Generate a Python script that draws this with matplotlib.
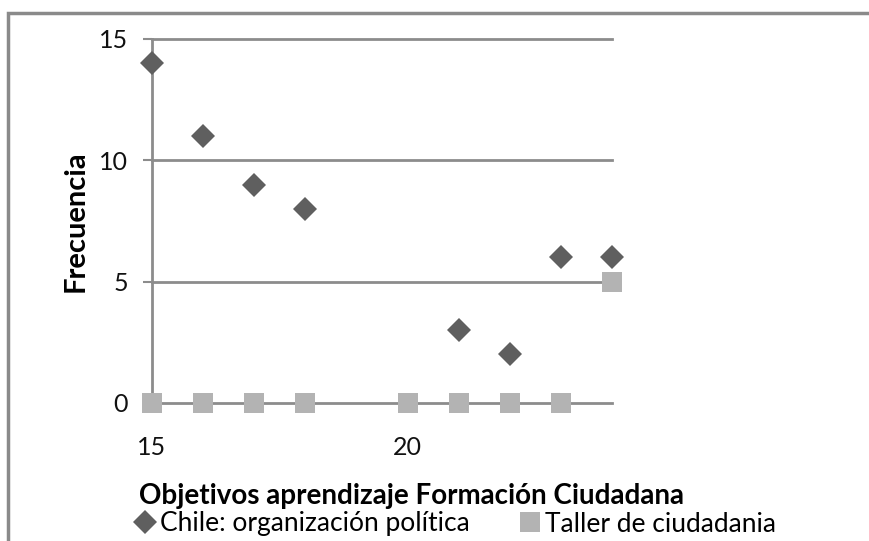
import matplotlib
matplotlib.use('Agg')
import matplotlib.pyplot as plt
from matplotlib.lines import Line2D
from matplotlib.patches import Rectangle

# Frequency per objective, two series
chile_x = [15, 16, 17, 18, 21, 22, 23, 24]
chile_y = [14, 11, 9, 8, 3, 2, 6, 6]
taller_x = [15, 16, 17, 18, 20, 21, 22, 23, 24]
taller_y = [0, 0, 0, 0, 0, 0, 0, 0, 5]

series_names = ['Chile: organización política', 'Taller de ciudadania']
x_ticks = [15, 20]
y_ticks = [0, 5, 10, 15]

plt.rcParams['font.family'] = ['Lato', 'DejaVu Sans']

fig = plt.figure(figsize=(8.7, 5.41), dpi=100)
ax = fig.add_axes([152 / 870, 1 - 403 / 541, 460 / 870, 364 / 541])

grid_color = '#8c8c8c'
dark = '#5f5f5f'
light = '#b3b3b3'

for v in y_ticks:
    ax.axhline(v, color=grid_color, lw=2, zorder=1)

ax.plot(taller_x, taller_y, 's', color=light, ms=15, mew=0, zorder=3,
        label=series_names[1])
ax.plot(chile_x, chile_y, 'D', color=dark, ms=12.5, mew=0, zorder=4,
        label=series_names[0])

ax.set_xlim(15, 24)
ax.set_ylim(0, 15)
ax.set_xticks(x_ticks)
ax.set_yticks(y_ticks)
for s in ['top', 'right', 'bottom']:
    ax.spines[s].set_visible(False)
ax.spines['left'].set_color(grid_color)
ax.spines['left'].set_linewidth(2)
ax.tick_params(axis='y', length=6.5, width=1.5, color=grid_color, pad=11,
               labelsize=18, labelcolor='#111111')
ax.tick_params(axis='x', length=0, pad=24, labelsize=18, labelcolor='#111111')
for lab in ax.get_xticklabels() + ax.get_yticklabels():
    lab.set_clip_on(False)
for ln in ax.get_lines():
    ln.set_clip_on(False)

ax.set_ylabel('Frecuencia', fontsize=21, fontweight='bold', va='center')
ax.yaxis.set_label_coords(-0.167, 0.5)
fig.text(412 / 870, 1 - 496 / 541, 'Objetivos aprendizaje Formación Ciudadana',
         ha='center', va='center', fontsize=20, fontweight='bold')

# Legend row under the axis title
handles = [Line2D([], [], marker='D', color=dark, ls='', ms=12.5, mew=0),
           Line2D([], [], marker='s', color=light, ls='', ms=15, mew=0)]
fig.legend(handles, series_names, loc='center left',
           bbox_to_anchor=(134 / 870, 1 - 524 / 541), ncol=2, frameon=False,
           fontsize=19, handlelength=0.8, handletextpad=0.2,
           columnspacing=1.85, borderaxespad=0, borderpad=0)

# Outer chart frame
fig.patches.append(Rectangle((8 / 870, -0.1), 1.2, 1 - 13 / 541 + 0.1,
                             transform=fig.transFigure, fill=False,
                             edgecolor='#8a8a8a', lw=2.5))

fig.savefig('out.png', dpi=100)
